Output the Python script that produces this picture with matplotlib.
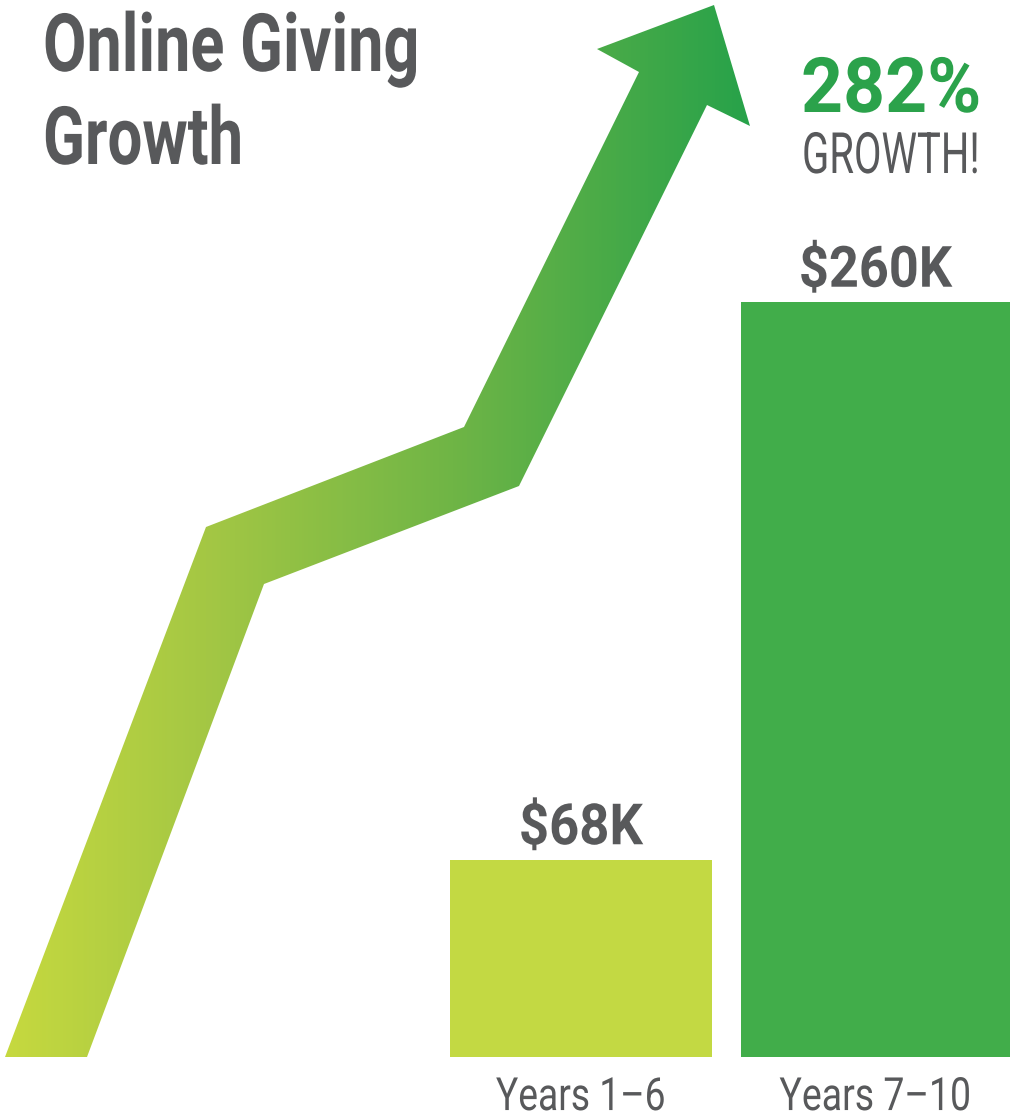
import numpy as np
import matplotlib
matplotlib.use('Agg')
import matplotlib.pyplot as plt
from matplotlib import patheffects
from matplotlib.transforms import Affine2D
from matplotlib.colors import LinearSegmentedColormap
from matplotlib.patches import Polygon

# ---------------- data ----------------
categories = ['Years 1\u20136', 'Years 7\u201310']
values = [68, 260]                      # thousands of dollars
value_labels = ['$68K', '$260K']
growth_label = '282%'
growth_sub = 'GROWTH!'
title_lines = ['Online Giving', 'Growth']

# ---------------- style ----------------
bar_colors = ['#c3d943', '#41ad4a']
bar_widths = [0.889, 0.913]
GRAY = '#58595b'
GREEN = '#2ba24b'
FONT = 'Roboto'
W, H = 1010, 1118

fig = plt.figure(figsize=(W / 100, H / 100), dpi=100)
fig.patch.set_facecolor('white')


class Squeeze(patheffects.AbstractPathEffect):
    """Horizontally condense glyph outlines around a pivot x (display px)."""
    def __init__(self, sx, x0):
        super().__init__((0, 0))
        self.sx = sx
        self.x0 = x0

    def draw_path(self, renderer, gc, tpath, affine, rgbFace=None):
        aff = affine + Affine2D().translate(-self.x0, 0).scale(self.sx, 1.0).translate(self.x0, 0)
        renderer.draw_path(gc, tpath, aff, rgbFace)


# ---------------- background arrow (decoration) ----------------
bg = fig.add_axes([0, 0, 1, 1])
bg.set_xlim(0, W)
bg.set_ylim(H, 0)
bg.axis('off')
ARROW = [(5, 1057), (206, 527), (464, 427), (639, 72), (597, 49), (714, 5),
         (750, 126), (707, 105), (519, 486), (264, 584), (87, 1057)]
poly = Polygon(ARROW, closed=True, facecolor='none', edgecolor='none')
bg.add_patch(poly)
cmap = LinearSegmentedColormap.from_list(
    'arrow', [(0.0, '#c6d93f'), (0.27, '#a4c744'), (0.62, '#6cb446'), (0.82, '#47aa48'), (1.0, '#27a24a')])
grad = np.linspace(0, 1, 512)[None, :]
im = bg.imshow(grad, cmap=cmap, extent=(5, 750, H, 0), aspect='auto', interpolation='bilinear')
im.set_clip_path(poly)
bg.set_xlim(0, W)
bg.set_ylim(H, 0)

# ---------------- bars ----------------
px_per_unit = 755 / 260.0
ax_h = 300 * px_per_unit
ax = fig.add_axes([450 / W, (H - 1057) / H, 560 / W, ax_h / H])
ax.set_xlim(-0.4445, 1.457)
ax.set_ylim(0, 300)
x = np.arange(len(categories))
ax.bar(x, values, width=bar_widths, color=bar_colors, linewidth=0)
for s in ax.spines.values():
    s.set_visible(False)
ax.set_yticks([])
ax.set_xticks(x)
ax.set_xticklabels(categories, fontsize=33, color=GRAY, family=FONT)
ax.tick_params(axis='x', length=0, pad=13)
ax.patch.set_alpha(0)

bar_texts = []
for xi, v, lab in zip(x, values, value_labels):
    t = ax.annotate(lab, (xi, v), xytext=(0, 11), textcoords='offset points',
                    ha='center', va='baseline', fontsize=41, fontweight='bold',
                    color=GRAY, family=FONT)
    bar_texts.append(t)

# ---------------- free texts ----------------
def ftext(xp, yp, s, ha='left', **kw):
    return fig.text(xp / W, 1 - yp / H, s, ha=ha, va='baseline', family=FONT, **kw)

t1 = ftext(43, 71, title_lines[0], fontsize=58, fontweight='bold', color=GRAY)
t2 = ftext(43, 164, title_lines[1], fontsize=58, fontweight='bold', color=GRAY)
t3 = ftext(981, 112, growth_label, ha='right', fontsize=55, fontweight='bold', color=GREEN)
t4 = ftext(980, 173, growth_sub, ha='right', fontsize=41, color=GRAY)

fig.canvas.draw()
renderer = fig.canvas.get_renderer()


def squeeze_to(t, target_w, anchor='left'):
    bb = t.get_window_extent(renderer)
    sx = target_w / bb.width
    if anchor == 'left':
        x0 = bb.x0
    elif anchor == 'right':
        x0 = bb.x1
    else:
        x0 = (bb.x0 + bb.x1) / 2
    t.set_path_effects([Squeeze(sx, x0)])


squeeze_to(t1, 376)
squeeze_to(t2, 200)
squeeze_to(t3, 180, 'right')
squeeze_to(t4, 178, 'right')
squeeze_to(bar_texts[0], 124, 'center')
squeeze_to(bar_texts[1], 153, 'center')
tl = ax.get_xticklabels()
squeeze_to(tl[0], 170, 'center')
squeeze_to(tl[1], 192, 'center')

fig.savefig('out.png', dpi=100, facecolor='white')
